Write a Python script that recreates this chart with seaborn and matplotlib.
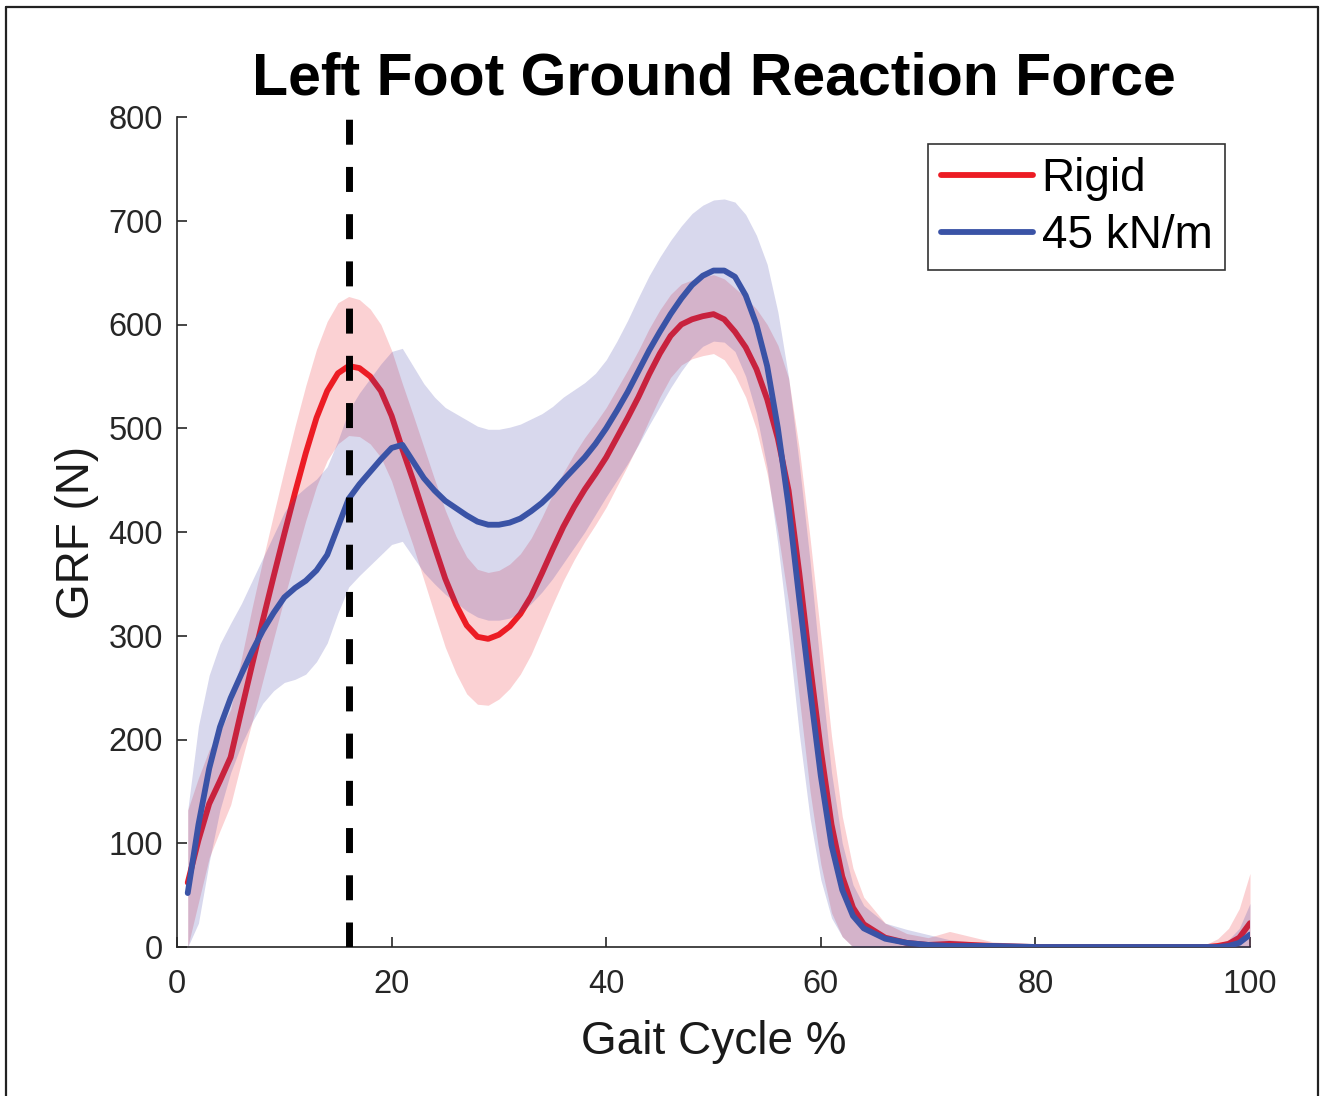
import matplotlib
matplotlib.use("Agg")
import matplotlib.pyplot as plt
from matplotlib.lines import Line2D
import seaborn as sns
import pandas as pd
import numpy as np

# ---------------- data ----------------
gait_pct = list(range(1, 63)) + [63, 64, 66, 68, 70, 72, 74, 76, 80, 85, 90, 95, 96, 97, 98, 99, 100]

rigid_mean = [62, 103, 138, 160, 183, 228, 272, 315, 357, 398,
              438, 476, 510, 536, 553, 560, 558, 550, 536, 512,
              480, 450, 418, 386, 355, 330, 310, 299, 297, 301,
              309, 321, 338, 360, 383, 405, 424, 441, 456, 472,
              491, 510, 530, 552, 572, 589, 600, 605, 608, 610,
              605, 593, 578, 557, 528, 490, 440, 360, 272, 190,
              118, 68,
              38, 22, 9, 4, 2, 3, 2, 1, 0, 0, 0, 0, 0, 1, 3, 9, 23]

rigid_sd = [70, 60, 52, 48, 46, 50, 55, 58, 60, 62,
            64, 65, 66, 67, 68, 67, 66, 65, 64, 63,
            63, 63, 64, 65, 66, 66, 66, 65, 64, 62,
            60, 58, 56, 54, 53, 52, 51, 50, 49, 48,
            47, 46, 45, 44, 42, 40, 39, 38, 38, 38,
            39, 42, 48, 58, 72, 90, 108, 120, 122, 110,
            85, 58,
            38, 26, 14, 9, 7, 12, 8, 4, 2, 2, 2, 2, 3, 7, 15, 28, 48]

soft_mean = [52, 118, 172, 212, 240, 263, 285, 305, 322, 337,
             346, 353, 363, 378, 405, 432, 446, 458, 470, 481,
             484, 468, 452, 440, 430, 423, 416, 410, 407, 407,
             409, 413, 420, 428, 438, 450, 461, 472, 485, 500,
             517, 535, 555, 575, 593, 610, 625, 638, 647, 652,
             652, 646, 628, 600, 560, 500, 425, 335, 248, 165,
             98, 55,
             30, 18, 8, 4, 2, 1, 1, 1, 0, 0, 0, 0, 0, 0, 1, 4, 12]

soft_sd = [80, 95, 90, 80, 72, 68, 68, 70, 75, 82,
           88, 90, 88, 85, 83, 85, 88, 90, 92, 93,
           93, 92, 91, 90, 90, 91, 92, 92, 92, 92,
           92, 91, 89, 86, 83, 80, 76, 72, 68, 66,
           67, 69, 71, 72, 72, 71, 70, 69, 68, 68,
           69, 72, 78, 86, 98, 112, 124, 130, 124, 100,
           70, 45,
           30, 22, 15, 13, 10, 6, 4, 3, 2, 2, 2, 2, 2, 3, 6, 14, 30]

conditions = ["Rigid", "45 kN/m"]
event_pct = 16  # vertical dashed marker

x_ticks = [0, 20, 40, 60, 80, 100]
y_ticks = [0, 100, 200, 300, 400, 500, 600, 700, 800]

RED = "#EC1C24"
BLUE = "#3A53A6"

# ---------------- style ----------------
sns.set_style("ticks")
plt.rcParams["font.family"] = ["Liberation Sans", "DejaVu Sans"]
plt.rcParams["axes.edgecolor"] = "#262626"
plt.rcParams["xtick.color"] = "#262626"
plt.rcParams["ytick.color"] = "#262626"

fig = plt.figure(figsize=(13.24, 10.96), dpi=100)
ax = fig.add_axes([177 / 1324, 1 - 947 / 1096, (1250 - 177) / 1324, (947 - 117) / 1096])

df = pd.DataFrame({
    "Gait Cycle %": gait_pct * 2,
    "GRF (N)": rigid_mean + soft_mean,
    "cond": [conditions[0]] * len(gait_pct) + [conditions[1]] * len(gait_pct),
})

x = np.array(gait_pct, dtype=float)
rm, rs = np.array(rigid_mean, float), np.array(rigid_sd, float)
sm, ss = np.array(soft_mean, float), np.array(soft_sd, float)

# Rigid: band then line
ax.fill_between(x, np.clip(rm - rs, 0, None), rm + rs, color=RED, alpha=0.2, linewidth=0, zorder=1)
sns.lineplot(data=df[df["cond"] == conditions[0]], x="Gait Cycle %", y="GRF (N)",
             color=RED, linewidth=4.2, label=conditions[0], ax=ax, zorder=2)
# 45 kN/m: band then line
ax.fill_between(x, np.clip(sm - ss, 0, None), sm + ss, color="#3C3CA8", alpha=0.2, linewidth=0, zorder=3)
sns.lineplot(data=df[df["cond"] == conditions[1]], x="Gait Cycle %", y="GRF (N)",
             color=BLUE, linewidth=4.2, label=conditions[1], ax=ax, zorder=4)

ax.axvline(event_pct, color="black", linewidth=5, linestyle=(0, (3.6, 3.2)), zorder=5)

ax.set_xlim(0, 100)
ax.set_ylim(0, 800)
ax.set_xticks(x_ticks)
ax.set_yticks(y_ticks)
ax.tick_params(axis="both", direction="in", length=7, width=1.2, labelsize=23.5)
ax.tick_params(axis="y", pad=10)
ax.tick_params(axis="x", pad=16)
for s in ["top", "right"]:
    ax.spines[s].set_visible(False)
for s in ["left", "bottom"]:
    ax.spines[s].set_linewidth(1.2)

ax.set_xlabel("Gait Cycle %", fontsize=33, labelpad=14, color="#1a1a1a")
ax.set_ylabel("GRF (N)", fontsize=33, labelpad=7, color="#1a1a1a")
ax.set_title("Left Foot Ground Reaction Force", fontsize=42.5, fontweight="bold", pad=16, color="black")

leg = ax.legend(loc="upper right", bbox_to_anchor=(0.977, 0.9675), borderaxespad=0,
                fontsize=33, frameon=True, fancybox=False, edgecolor="black",
                handlelength=2.0, handletextpad=0.2, labelspacing=0.28, borderpad=0.28)
leg.get_frame().set_linewidth(1.2)
for t in leg.get_texts():
    t.set_color("black")

# figure border (left, top, right)
bc = "#222222"
fig.add_artist(Line2D([5.5 / 1324, 5.5 / 1324], [0, 1 - 7 / 1096], transform=fig.transFigure, color=bc, lw=1.6))
fig.add_artist(Line2D([5.5 / 1324, 1318 / 1324], [1 - 7 / 1096, 1 - 7 / 1096], transform=fig.transFigure, color=bc, lw=1.6))
fig.add_artist(Line2D([1318 / 1324, 1318 / 1324], [0, 1 - 7 / 1096], transform=fig.transFigure, color=bc, lw=1.6))

fig.savefig("out.png", dpi=100, facecolor="white")
